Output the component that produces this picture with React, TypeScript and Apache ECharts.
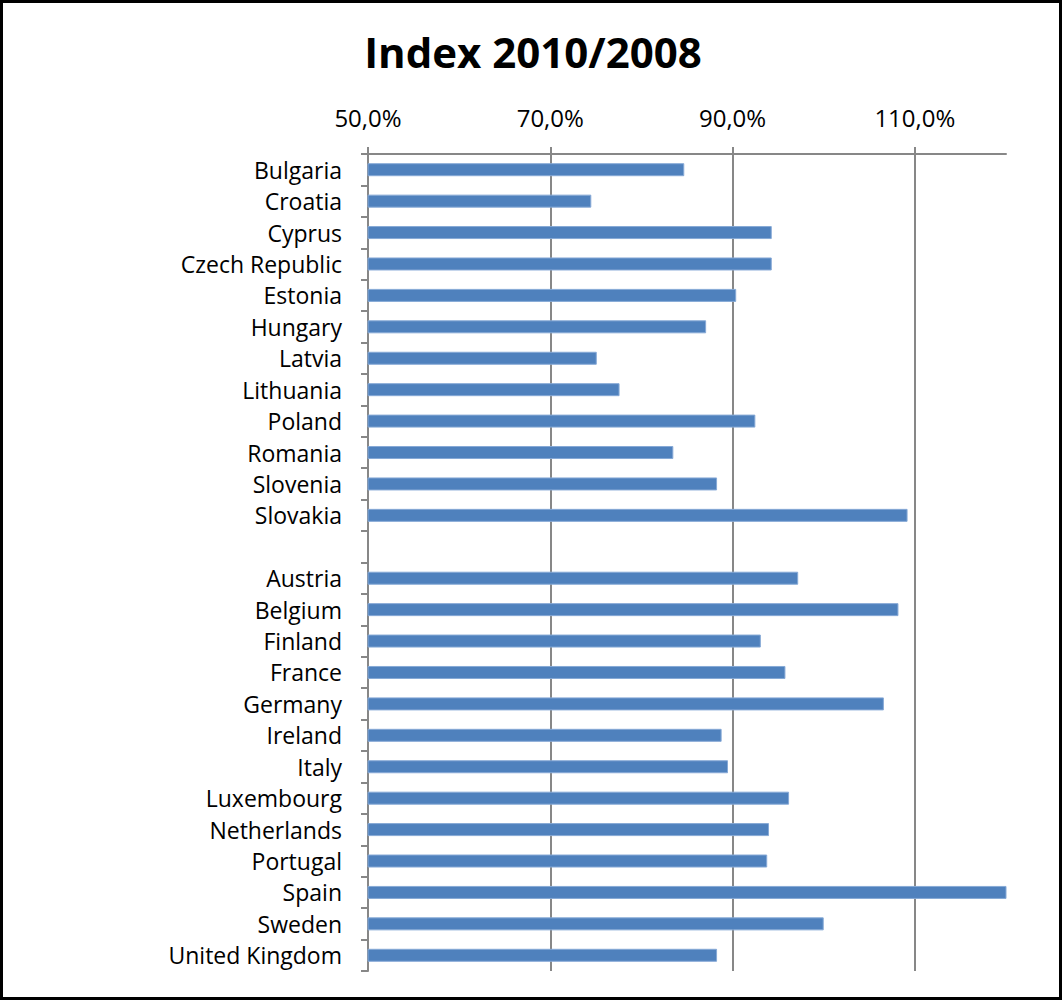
import React, { useEffect, useRef } from "react";
import * as echarts from "echarts";

const categories: string[] = [
  "Bulgaria", "Croatia", "Cyprus", "Czech Republic", "Estonia", "Hungary",
  "Latvia", "Lithuania", "Poland", "Romania", "Slovenia", "Slovakia",
  "",
  "Austria", "Belgium", "Finland", "France", "Germany", "Ireland", "Italy",
  "Luxembourg", "Netherlands", "Portugal", "Spain", "Sweden", "United Kingdom",
];

const values: (number | null)[] = [
  84.7, 74.5, 94.3, 94.3, 90.4, 87.1,
  75.1, 77.6, 92.5, 83.5, 88.3, 109.2,
  null,
  97.2, 108.2, 93.1, 95.8, 106.6, 88.8, 89.5,
  96.2, 94.0, 93.8, 120.3, 100.0, 88.3,
];

const tickValues: number[] = [50, 70, 90, 110];
const gridLineValues: number[] = [70, 90, 110];

const FONT = "'Open Sans', 'Noto Sans', sans-serif";
const GRAY = "#878787";

export default function App() {
  const ref = useRef<HTMLDivElement>(null);
  useEffect(() => {
    if (!ref.current) return;
    const chart = echarts.init(ref.current, null, { renderer: "svg" });
    chart.setOption({
      animation: false,
      backgroundColor: "#ffffff",
      textStyle: { fontFamily: FONT },
      graphic: [
        {
          type: "rect",
          shape: { x: 1.5, y: 1.5, width: 1059, height: 997 },
          style: { fill: "none", stroke: "#000000", lineWidth: 3 },
          silent: true,
        },
        {
          type: "text",
          x: 533,
          y: 51,
          style: {
            text: "Index 2010/2008",
            font: `bold 42px ${FONT}`,
            fill: "#000000",
            textAlign: "center",
            textVerticalAlign: "middle",
          },
        },
      ],
      grid: { left: 368, right: 57, top: 154, bottom: 29, containLabel: false },
      xAxis: {
        type: "value",
        position: "top",
        min: 50,
        max: 120,
        splitLine: { show: false },
        axisLine: { show: true, lineStyle: { color: GRAY, width: 2 } },
        axisTick: {
          show: true,
          length: 7,
          customValues: tickValues,
          lineStyle: { color: GRAY, width: 2 },
        },
        axisLabel: {
          customValues: tickValues,
          fontSize: 24,
          color: "#000000",
          margin: 25,
          fontFamily: FONT,
          formatter: (v: number) => v.toFixed(1).replace(".", ",") + "%",
        },
      },
      yAxis: {
        type: "category",
        inverse: true,
        data: categories,
        axisLine: { show: true, lineStyle: { color: GRAY, width: 2 } },
        axisTick: { show: true, length: 7, lineStyle: { color: GRAY, width: 2 } },
        axisLabel: {
          fontSize: 23,
          color: "#000000",
          margin: 26,
          fontFamily: FONT,
          interval: 0,
          padding: [0, 0, 2, 0],
        },
        splitLine: { show: false },
      },
      series: [
        {
          type: "bar",
          data: values,
          barWidth: 13,
          itemStyle: { color: "#4F81BD", borderColor: "#86A9D6", borderWidth: 1 },
          markLine: {
            silent: true,
            symbol: "none",
            label: { show: false },
            lineStyle: { color: GRAY, width: 2, type: "solid" },
            data: gridLineValues.map((v) => ({ xAxis: v })),
            z: 1,
          },
          z: 3,
        },
      ],
    });
    return () => chart.dispose();
  }, []);
  return (
    <div
      ref={ref}
      style={{ position: "fixed", left: 0, top: 0, width: 1063, height: 1000 }}
    />
  );
}
